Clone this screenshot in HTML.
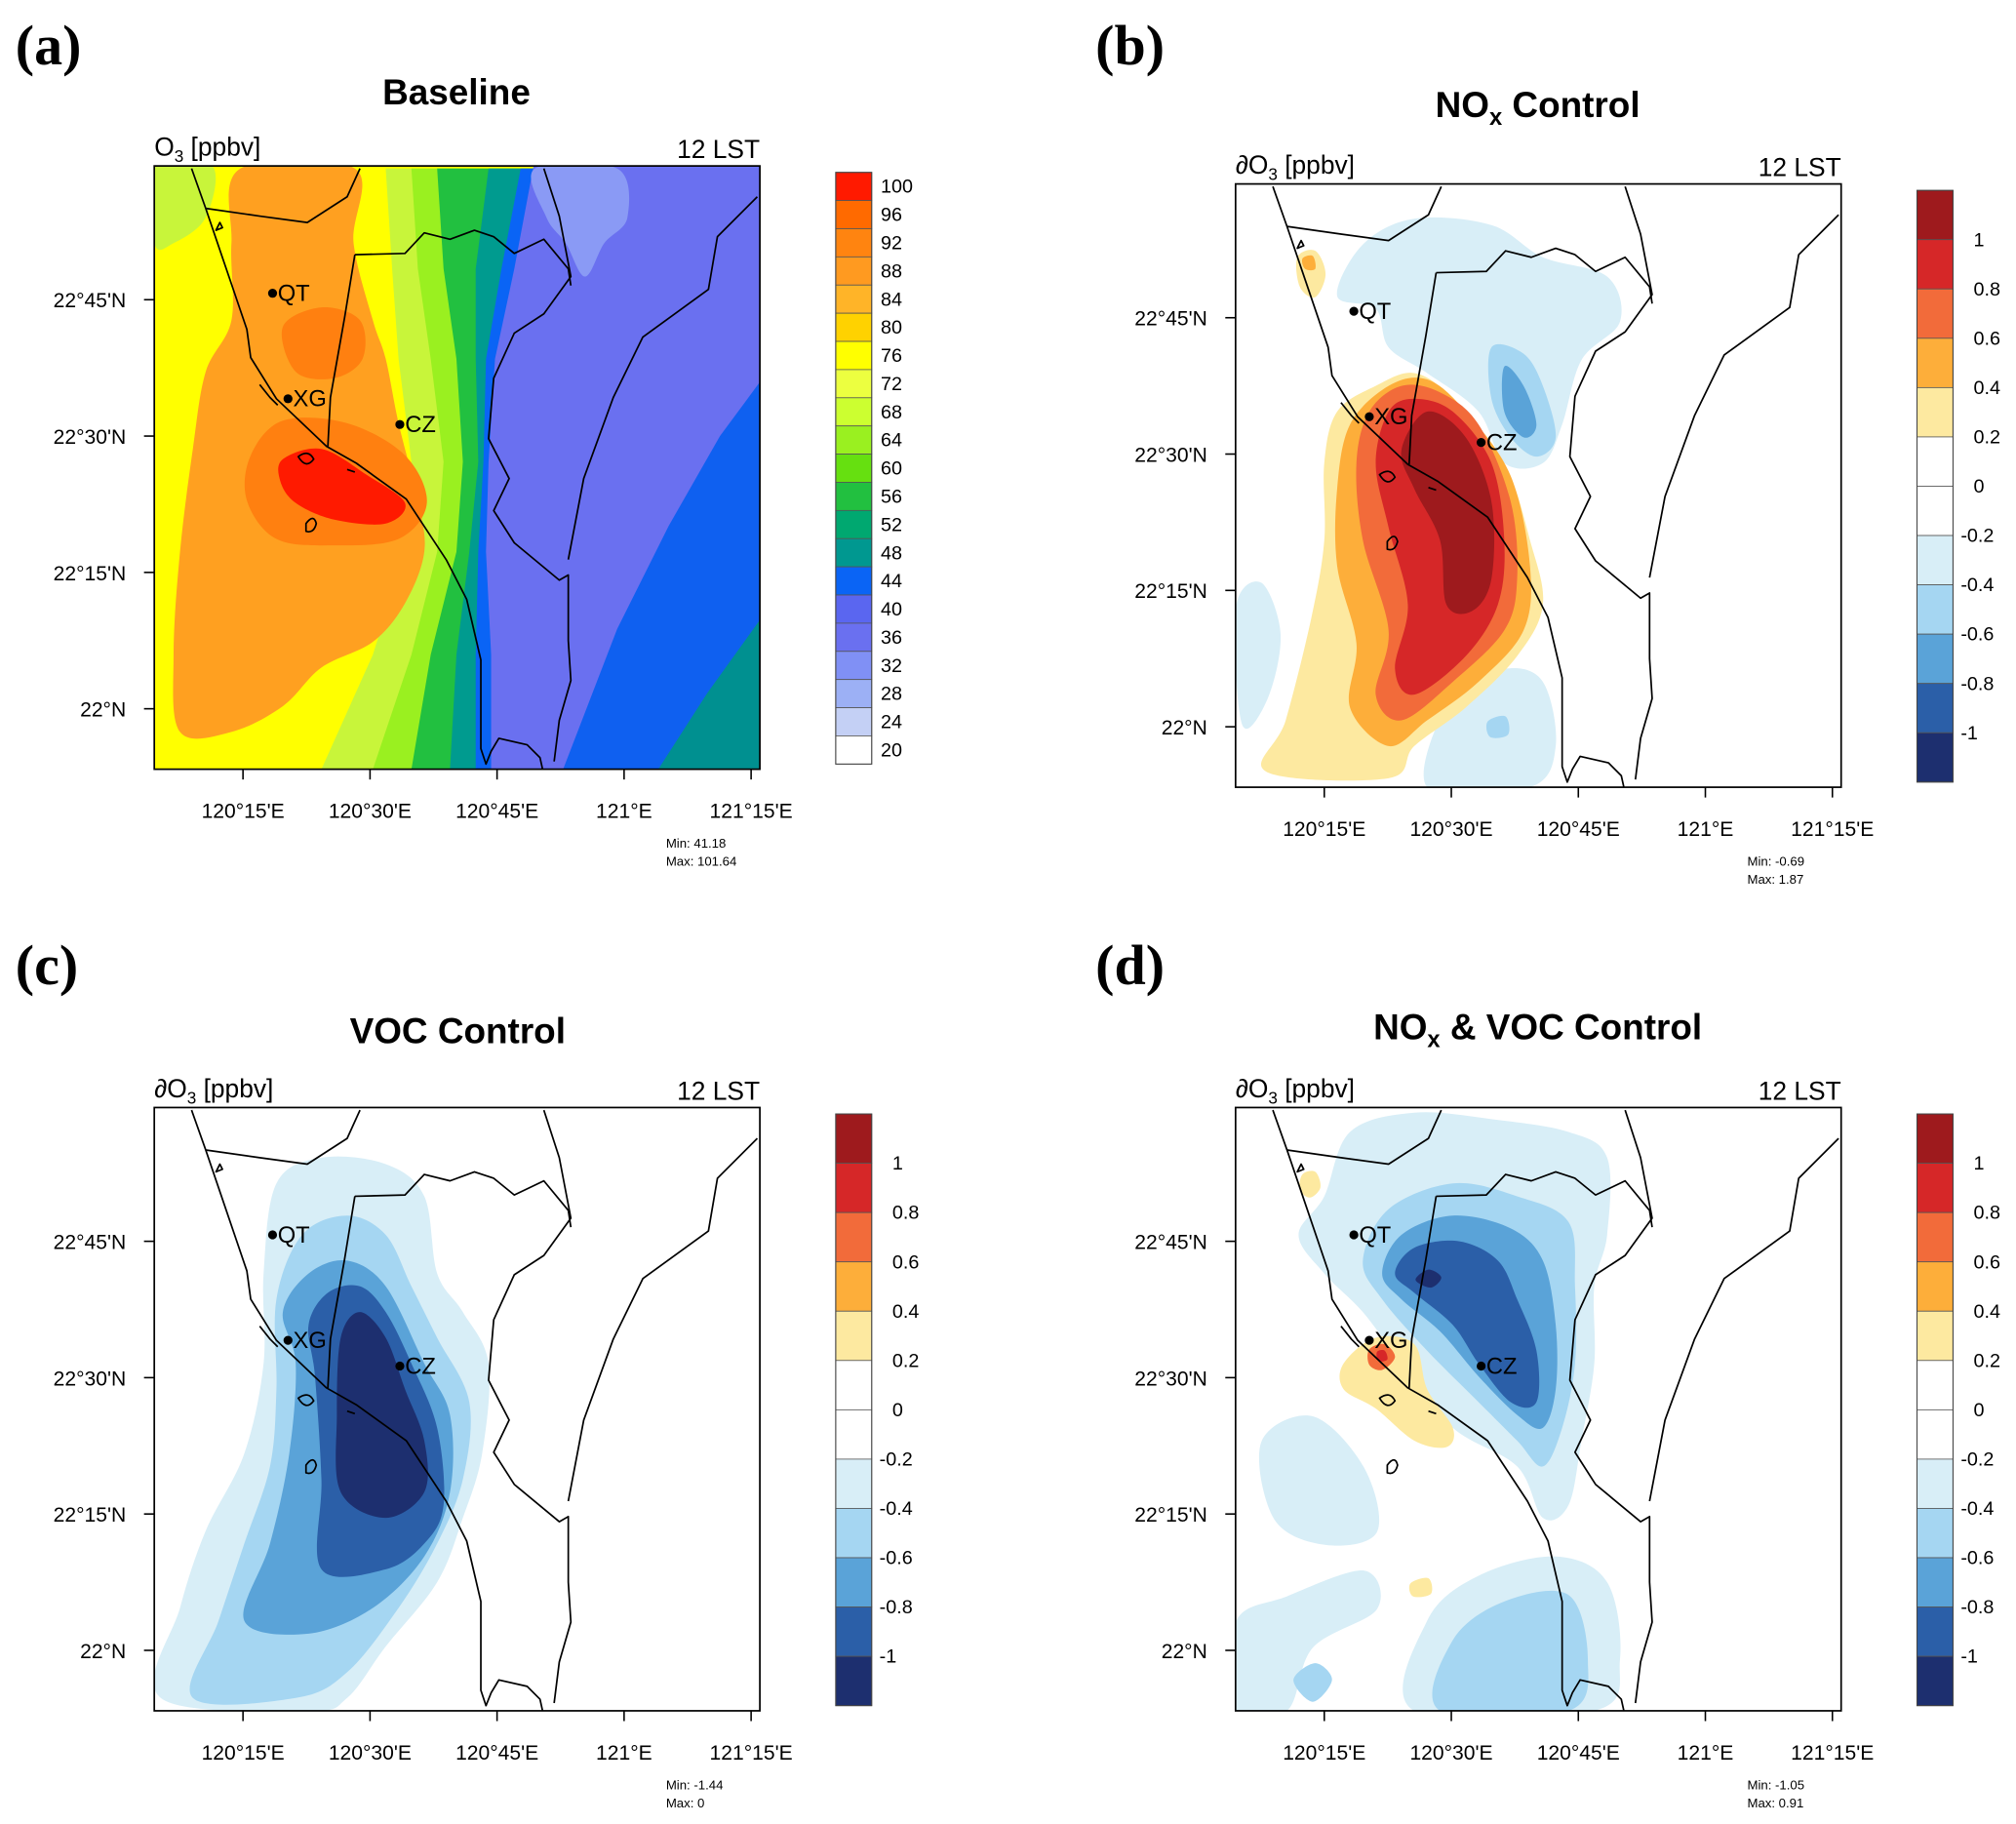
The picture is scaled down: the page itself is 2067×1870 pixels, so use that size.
<!DOCTYPE html>
<html><head><meta charset="utf-8">
<style>
html,body{margin:0;padding:0;background:#fff;}
svg{display:block;}
text{font-family:"Liberation Sans",sans-serif;fill:#000;}
.let{font-family:"Liberation Serif",serif;font-weight:bold;font-size:44px;}
.ttl{font-weight:bold;font-size:28px;}
.tk{font-size:16px;}
.cb{font-size:15px;}
.mm{font-size:10px;}
.hd{font-size:20px;}
</style></head>
<body>
<svg id="fig" width="2067" height="1870" viewBox="0 0 1568 1418" preserveAspectRatio="none" xmlns="http://www.w3.org/2000/svg">
<defs>
<clipPath id="boxclip"><rect x="0" y="0" width="471" height="469"/></clipPath>
<g id="coast" fill="none" stroke="#000" stroke-width="1.3" stroke-linejoin="round">
<polyline points="29,2 40,33 56,80 72,127 75,149 95,181 134,218 157,231 196,259 227,306 243,337 254,384 254,453 258,465 262,455 268,445 290,450 300,460 302,469"/>
<polyline points="40,33 82,39 119,44 150,24 160,2"/>
<polyline points="156,69 195,68 210,52 230,57 249,50 264,55 280,68 303,57 322,80 324,93"/>
<polyline points="156,69 148,118 137,180 135,218"/>
<polyline points="303,2 315,39 324,86 303,115 280,130 264,165 260,212 276,243 264,268 280,293 315,322 322,318 322,369 324,400 315,431 311,463"/>
<polyline points="469,24 438,55 431,96 380,133 357,180 334,243 322,306"/>
<path d="M48,50 l3,-6 l2,4 z M112,226 q8,-6 12,2 q-6,8 -12,-2 z M150,236 l6,2 M118,278 q6,-8 8,0 q-2,8 -8,6 z M82,170 l8,10 l6,6"/>
</g>
<g id="sites">
<circle cx="92" cy="99" r="3.5"/><text x="96" y="105" style="font-size:18px">QT</text>
<circle cx="104" cy="181" r="3.5"/><text x="108" y="187" style="font-size:18px">XG</text>
<circle cx="191" cy="201" r="3.5"/><text x="195" y="207" style="font-size:18px">CZ</text>
</g>
</defs>

<text class="let" x="12" y="50">(a)</text>
<text class="let" x="852" y="50">(b)</text>
<text class="let" x="12" y="765">(c)</text>
<text class="let" x="852" y="765">(d)</text>

<text class="ttl" x="355" y="81" text-anchor="middle">Baseline</text>
<text class="ttl" x="1196" y="91" text-anchor="middle">NO<tspan font-size="18" dy="6">x</tspan><tspan dy="-6"> Control</tspan></text>
<text class="ttl" x="356" y="811" text-anchor="middle">VOC Control</text>
<text class="ttl" x="1196" y="808" text-anchor="middle">NO<tspan font-size="18" dy="6">x</tspan><tspan dy="-6"> &amp; VOC Control</tspan></text>

<g id="panels"></g>
</svg>
<script>
const panelOrigins=[[120,129],[961,143],[120,861],[961,861]];
const lonTicks=["120°15'E","120°30'E","120°45'E","121°E","121°15'E"];
const latTicks=["22°45'N","22°30'N","22°15'N","22°N"];
const baseLevels=["100","96","92","88","84","80","76","72","68","64","60","56","52","48","44","40","36","32","28","24","20"];
const baseColors=["#ff1a00","#ff6a00","#ff8410","#ff9a20","#ffb428","#ffd200","#ffff00","#ecff40","#ccff30","#9af020","#66e010","#22c040","#00a870","#009890","#0a64f5","#5a66f0","#6a70f0","#8090f5","#9cb0f5","#c4d0f5","#ffffff"];
const divLevels=["1","0.8","0.6","0.4","0.2","0","-0.2","-0.4","-0.6","-0.8","-1"];
const divColors=["#9e1a1d","#d62728","#f26b3a","#fdae3a","#fde9a0","#ffffff","#ffffff","#d8eef7","#a5d6f2","#5aa3d8","#2b5fa8","#1d2f6f"];
const stats=[["41.18","101.64"],["-0.69","1.87"],["-1.44","0"],["-1.05","0.91"]];
const headers=["O<tspan font-size='13' dy='5'>3</tspan><tspan dy='-5'> [ppbv]</tspan>","∂O<tspan font-size='13' dy='5'>3</tspan><tspan dy='-5'> [ppbv]</tspan>"];

const shapesA=[
["#c8f53a",[[180,2],[471,2],[471,469],[130,469],[170,380],[195,300],[200,230],[190,150],[185,80]],0],
["#9af020",[[200,2],[471,2],[471,469],[170,469],[200,380],[220,300],[225,230],[215,150],[205,80]],0],
["#22c040",[[220,2],[471,2],[471,469],[200,469],[215,380],[235,300],[240,230],[235,150],[225,80]],0],
["#009b8f",[[260,2],[471,2],[471,469],[230,469],[235,380],[245,300],[252,230],[250,150],[250,80]],0],
["#0a64f5",[[285,2],[471,2],[471,469],[250,469],[250,380],[252,300],[256,230],[258,150],[270,80]],0],
["#6a70f0",[[295,0],[471,0],[471,469],[262,469],[262,380],[258,300],[260,230],[265,150],[280,80]],0],
["#8a9af5",[[296,2],[360,2],[368,40],[350,60],[335,86],[320,60],[305,40]],1],
["#0f60f0",[[471,168],[471,469],[318,469],[360,360],[400,280],[440,210]],0],
["#009090",[[471,353],[471,469],[392,469],[430,410]],0],
["#c8f53a",[[0,0],[45,0],[40,40],[15,60],[0,60]],1],
["#ffa020",[[67,2],[156,2],[155,60],[170,120],[180,150],[190,200],[205,260],[210,300],[195,340],[170,370],[130,390],[100,420],[60,440],[20,440],[15,380],[20,300],[30,220],[40,160],[60,120],[60,60]],1],
["#ff8010",[[100,125],[130,110],[160,120],[162,150],[140,165],[110,160]],1],
["#ff8010",[[75,225],[100,198],[150,200],[195,225],[212,262],[190,290],[140,295],[95,290],[72,260]],1],
["#ff1a00",[[100,228],[130,220],[165,240],[195,262],[180,278],[140,275],[110,262],[98,245]],1]
];
const shapesB=[
["#d8eef7",[[99,47],[139,27],[199,32],[239,57],[289,72],[299,107],[269,137],[254,187],[239,217],[209,217],[189,177],[149,147],[119,127],[109,97],[79,87]],1],
["#d8eef7",[[149,469],[169,397],[209,377],[239,387],[249,437],[229,469]],1],
["#d8eef7",[[0,330],[20,310],[35,350],[25,400],[5,420]],1],
["#a5d6f2",[[199,127],[224,132],[239,157],[249,197],[234,212],[214,197],[199,167]],1],
["#5aa3d8",[[209,142],[224,157],[234,187],[224,197],[209,177]],1],
["#a5d6f2",[[196,418],[210,414],[212,428],[198,430]],1],
["#fde9a0",[[24,457],[39,417],[59,337],[69,277],[69,217],[79,177],[109,157],[139,147],[169,167],[209,217],[229,277],[239,327],[219,367],[179,407],[139,437],[119,462]],1],
["#fdae3a",[[79,297],[79,237],[89,187],[119,157],[149,152],[179,177],[214,227],[229,297],[224,347],[189,387],[149,417],[119,437],[89,407],[94,357]],1],
["#f26b3a",[[99,277],[94,217],[104,177],[129,157],[159,162],[189,187],[214,247],[219,307],[209,347],[169,387],[129,417],[109,397],[119,347]],1],
["#d62728",[[109,217],[119,177],[139,167],[169,177],[199,217],[209,277],[204,327],[179,367],[139,397],[124,377],[134,327],[119,267]],1],
["#9e1a1d",[[129,207],[149,177],[179,197],[199,247],[199,307],[184,332],[164,327],[159,277],[139,237]],1],
["#fde9a0",[[48,57],[62,52],[70,70],[62,88],[50,80]],1],
["#fdae3a",[[52,58],[60,56],[62,66],[54,66]],1]
];
const shapesC=[
["#d8eef7",[[5,459],[20,389],[40,329],[70,269],[85,199],[85,129],[95,59],[130,39],[180,44],[210,69],[220,129],[240,159],[260,199],[255,269],[240,319],[220,369],[180,419],[150,459],[120,469]],1],
["#a5d6f2",[[30,459],[50,399],[70,339],[90,279],[95,219],[95,149],[115,99],[150,84],[180,99],[200,139],[220,179],[245,229],[240,289],[220,339],[190,389],[150,439],[110,459]],1],
["#5aa3d8",[[70,399],[90,339],[105,269],[110,199],[100,159],[120,129],[150,119],[180,139],[210,199],[230,239],[230,299],[210,349],[170,389],[120,409]],1],
["#2b5fa8",[[130,359],[130,289],[125,209],[120,169],[135,144],[160,139],[180,159],[200,199],[220,249],[225,309],[210,339],[180,359]],1],
["#1d2f6f",[[145,299],[142,239],[145,179],[160,159],[180,179],[195,219],[210,259],[210,299],[180,319]],1]
];
const shapesD=[
["#d8eef7",[[69,69],[89,19],[139,4],[199,9],[259,19],[289,39],[289,99],[279,139],[279,199],[269,259],[259,309],[239,319],[219,279],[169,249],[129,199],[99,159],[69,129],[49,99]],1],
["#d8eef7",[[139,469],[149,399],[189,364],[249,349],[289,369],[299,429],[279,469]],1],
["#d8eef7",[[0,469],[0,400],[40,380],[100,360],[110,390],[60,420],[40,469]],1],
["#d8eef7",[[20,260],[60,240],[100,280],[110,330],[70,340],[30,320]],1],
["#a5d6f2",[[159,469],[169,414],[209,384],[259,379],[274,429],[259,469]],1],
["#a5d6f2",[[45,445],[62,432],[75,445],[60,462]],1],
["#a5d6f2",[[99,119],[119,79],[169,59],[219,69],[259,89],[264,139],[264,199],[254,249],[239,279],[219,259],[189,229],[149,189],[114,149]],1],
["#5aa3d8",[[114,129],[129,99],[169,84],[214,94],[239,119],[249,169],[249,219],[239,249],[219,239],[189,209],[159,174],[129,149]],1],
["#2b5fa8",[[124,129],[139,109],[174,104],[204,119],[219,149],[234,189],[234,229],[214,229],[189,199],[169,169],[139,144]],1],
["#1d2f6f",[[140,134],[150,126],[160,132],[152,140]],1],
["#fde9a0",[[84,199],[109,179],[139,184],[149,219],[169,249],[164,264],[139,259],[109,234],[84,219]],1],
["#f26b3a",[[104,188],[116,184],[124,194],[114,204],[104,200]],1],
["#d62728",[[110,190],[116,189],[118,196],[111,197]],1],
["#fde9a0",[[52,52],[62,50],[66,62],[58,70],[50,64]],1],
["#fde9a0",[[136,370],[150,366],[152,378],[138,380]],1]
];
const allShapes=[shapesA,shapesB,shapesC,shapesD];
const NS="http://www.w3.org/2000/svg";

function smoothPath(pts,smooth){
  if(!smooth){return "M"+pts.map(p=>p.join(",")).join(" L")+" Z";}
  const n=pts.length;let d="M"+pts[0].join(",");
  for(let i=0;i<n;i++){
    const p0=pts[(i-1+n)%n],p1=pts[i],p2=pts[(i+1)%n],p3=pts[(i+2)%n];
    const c1=[p1[0]+(p2[0]-p0[0])/6,p1[1]+(p2[1]-p0[1])/6];
    const c2=[p2[0]-(p3[0]-p1[0])/6,p2[1]-(p3[1]-p1[1])/6];
    d+=" C"+c1.join(",")+" "+c2.join(",")+" "+p2.join(",");
  }
  return d+" Z";
}
function mk(tag,attrs,parent){const e=document.createElementNS(NS,tag);for(const k in attrs)e.setAttribute(k,attrs[k]);parent.appendChild(e);return e;}

const root=document.getElementById("panels");
const letters=["a","b","c","d"];
panelOrigins.forEach((o,pi)=>{
  const ox=o[0],oy=o[1];
  const g=mk("g",{transform:"translate("+ox+","+oy+")"},root);
  
  
  const map=mk("g",{"clip-path":"url(#boxclip)"},g);
  mk("rect",{x:0,y:0,width:471,height:469,fill:pi===0?"#ffff00":"#ffffff"},map);
  allShapes[pi].forEach((s)=>{
    const p=mk("path",{d:smoothPath(s[1],s[2]),fill:s[0]},map);
    
    
  });
  const c=mk("use",{href:"#coast"},map);
  
  
  const st=mk("use",{href:"#sites"},g);
  
  
  const fr=mk("rect",{x:0,y:0,width:471,height:469,fill:"none",stroke:"#000","stroke-width":1.3},g);
  
  
  const h=mk("text",{x:0,y:-8,class:"hd"},g);h.innerHTML=headers[pi===0?0:1];
  
  
  const t=mk("text",{x:471,y:-6,class:"hd","text-anchor":"end"},g);t.textContent="12 LST";
  
  
  lonTicks.forEach((lb,i)=>{
    const x=69+i*98.8;
    mk("line",{x1:x,y1:469,x2:x,y2:477,stroke:"#000","stroke-width":1.2},g);
    const tx=mk("text",{x:x,y:507,class:"tk","text-anchor":"middle"},g);tx.textContent=lb;
    
    
  });
  latTicks.forEach((lb,i)=>{
    const y=104+i*106;
    mk("line",{x1:-8,y1:y,x2:0,y2:y,stroke:"#000","stroke-width":1.2},g);
    const tx=mk("text",{x:-22,y:y+6,class:"tk","text-anchor":"end"},g);tx.textContent=lb;
    
    
  });
  const m1=mk("text",{x:398,y:530,class:"mm"},g);m1.textContent="Min:  "+stats[pi][0];
  
  
  const m2=mk("text",{x:398,y:544,class:"mm"},g);m2.textContent="Max:  "+stats[pi][1];
  
  
  const cb=mk("g",{transform:"translate(530,5)"},g);
  
  
  const cols=pi===0?baseColors:divColors, levs=pi===0?baseLevels:divLevels;
  const H=460, bh=H/cols.length;
  cols.forEach((col,i)=>{
    const r=mk("rect",{x:0,y:i*bh,width:28,height:bh,fill:col,stroke:"#555","stroke-width":0.6},cb);
    
    
  });
  mk("rect",{x:0,y:0,width:28,height:H,fill:"none",stroke:"#444","stroke-width":0.8},cb);
  levs.forEach((lb,i)=>{
    const y=pi===0?(i+0.5)*bh:(i+1)*bh;
    const tx=mk("text",{x:pi===0?35:(lb.startsWith("-")?34:44),y:y+5,class:"cb"},cb);tx.textContent=lb;
    
    
  });
});
</script>
</body></html>
